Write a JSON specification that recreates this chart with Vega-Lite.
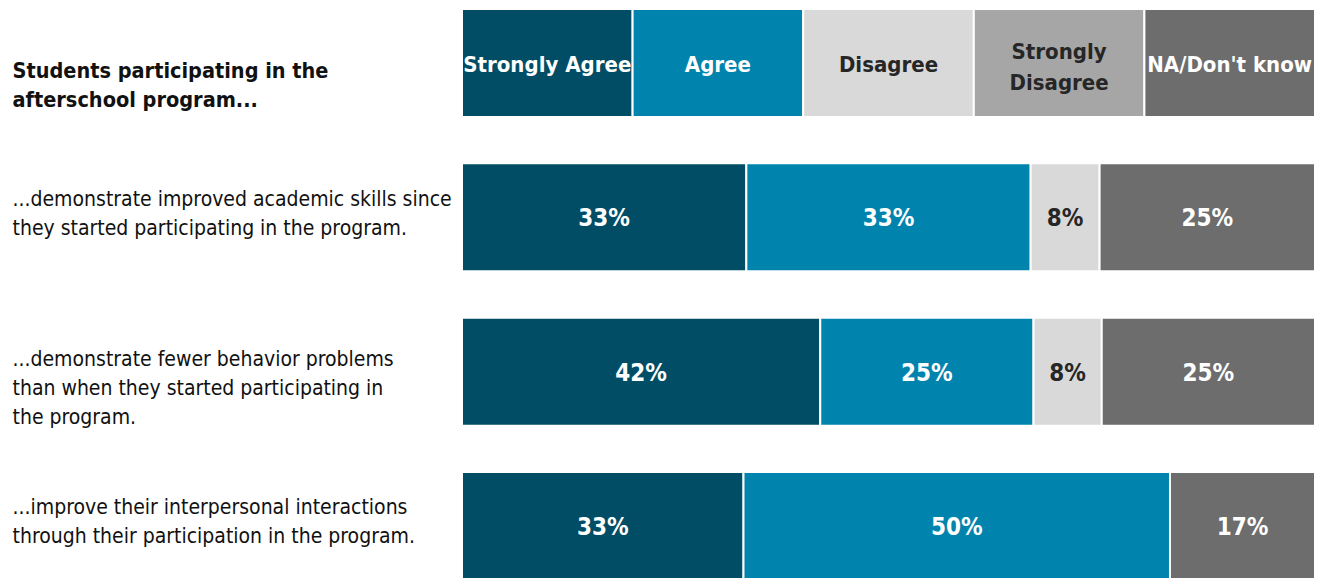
{
  "$schema": "https://vega.github.io/schema/vega-lite/v6.json",
  "width": 853,
  "height": 571,
  "autosize": {"type": "none"},
  "padding": {"left": 462, "top": 9, "right": 4, "bottom": 0},
  "background": "white",
  "config": {"view": {"stroke": null}},
  "data": {
    "values": [
      {"row": "Students participating in the|afterschool program...", "cat": "Strongly Agree", "k": 1, "v": 20, "label": "Strongly Agree"},
      {"row": "Students participating in the|afterschool program...", "cat": "Agree", "k": 2, "v": 20, "label": "Agree"},
      {"row": "Students participating in the|afterschool program...", "cat": "Disagree", "k": 3, "v": 20, "label": "Disagree"},
      {"row": "Students participating in the|afterschool program...", "cat": "Strongly Disagree", "k": 4, "v": 20, "label": "Strongly|Disagree"},
      {"row": "Students participating in the|afterschool program...", "cat": "NA/Don't know", "k": 5, "v": 20, "label": "NA/Don't know"},
      {"row": "...demonstrate improved academic skills since|they started participating in the program.", "cat": "Strongly Agree", "k": 1, "v": 33, "label": "33%"},
      {"row": "...demonstrate improved academic skills since|they started participating in the program.", "cat": "Agree", "k": 2, "v": 33, "label": "33%"},
      {"row": "...demonstrate improved academic skills since|they started participating in the program.", "cat": "Disagree", "k": 3, "v": 8, "label": "8%"},
      {"row": "...demonstrate improved academic skills since|they started participating in the program.", "cat": "NA/Don't know", "k": 5, "v": 25, "label": "25%"},
      {"row": "...demonstrate fewer behavior problems|than when they started participating in|the program.", "cat": "Strongly Agree", "k": 1, "v": 42, "label": "42%"},
      {"row": "...demonstrate fewer behavior problems|than when they started participating in|the program.", "cat": "Agree", "k": 2, "v": 25, "label": "25%"},
      {"row": "...demonstrate fewer behavior problems|than when they started participating in|the program.", "cat": "Disagree", "k": 3, "v": 8, "label": "8%"},
      {"row": "...demonstrate fewer behavior problems|than when they started participating in|the program.", "cat": "NA/Don't know", "k": 5, "v": 25, "label": "25%"},
      {"row": "...improve their interpersonal interactions|through their participation in the program.", "cat": "Strongly Agree", "k": 1, "v": 33, "label": "33%"},
      {"row": "...improve their interpersonal interactions|through their participation in the program.", "cat": "Agree", "k": 2, "v": 50, "label": "50%"},
      {"row": "...improve their interpersonal interactions|through their participation in the program.", "cat": "NA/Don't know", "k": 5, "v": 17, "label": "17%"}
    ]
  },
  "encoding": {
    "y": {
      "field": "row",
      "type": "nominal",
      "sort": [
        "Students participating in the|afterschool program...",
        "...demonstrate improved academic skills since|they started participating in the program.",
        "...demonstrate fewer behavior problems|than when they started participating in|the program.",
        "...improve their interpersonal interactions|through their participation in the program."
      ],
      "scale": {"paddingInner": 0.3, "paddingOuter": 0},
      "title": null,
      "axis": {
        "domain": false,
        "ticks": false,
        "grid": false,
        "labelAlign": "left",
        "labelBaseline": "middle",
        "labelPadding": 450,
        "labelLimit": 0,
        "labelOverlap": false,
        "labelBound": false,
        "labelExpr": "split(datum.label, '|')",
        "labelLineHeight": {"condition": {"test": "indexof(datum.value,'Students')==0", "value": 31}, "value": 29},
        "labelColor": "#111111",
        "labelFont": "DejaVu Sans Condensed",
        "labelFontWeight": {"condition": {"test": "indexof(datum.value,'Students')==0", "value": "bold"}, "value": "normal"},
        "labelFontSize": {"condition": {"test": "indexof(datum.value,'Students')==0", "value": 21.5}, "value": 21},
        "labelOffset": {"condition": [
          {"test": "indexof(datum.value,'Students')==0", "value": 9},
          {"test": "indexof(datum.value,'fewer')>0", "value": -12},
          {"test": "indexof(datum.value,'interpersonal')>0", "value": -18}
        ], "value": -17}
      }
    }
  },
  "layer": [
    {
      "mark": {"type": "bar", "stroke": "white", "strokeWidth": 2},
      "encoding": {
        "x": {"field": "v", "type": "quantitative", "stack": "normalize", "axis": null, "scale": {"nice": false}},
        "color": {
          "field": "cat",
          "type": "nominal",
          "scale": {
            "domain": ["Strongly Agree", "Agree", "Disagree", "Strongly Disagree", "NA/Don't know"],
            "range": ["#004d65", "#0084ae", "#d9d9d9", "#a6a6a6", "#6d6d6d"]
          },
          "legend": null
        },
        "order": {"field": "k", "type": "quantitative"}
      }
    },
    {
      "mark": {
        "type": "text",
        "font": "DejaVu Sans Condensed",
        "fontWeight": "bold",
        "fontSize": {"expr": "indexof(datum.label,'%')>0 ? 24 : 22"},
        "dy": {"expr": "indexof(datum.label,'|')>0 ? -11 : 2"},
        "baseline": "middle",
        "align": "center",
        "lineBreak": "|",
        "lineHeight": 31
      },
      "encoding": {
        "x": {"field": "v", "type": "quantitative", "stack": "normalize", "bandPosition": 0.5},
        "text": {"field": "label"},
        "fill": {
          "field": "cat",
          "type": "nominal",
          "scale": {
            "domain": ["Strongly Agree", "Agree", "Disagree", "Strongly Disagree", "NA/Don't know"],
            "range": ["#ffffff", "#ffffff", "#262626", "#262626", "#ffffff"]
          },
          "legend": null
        },
        "order": {"field": "k", "type": "quantitative"}
      }
    }
  ]
}
